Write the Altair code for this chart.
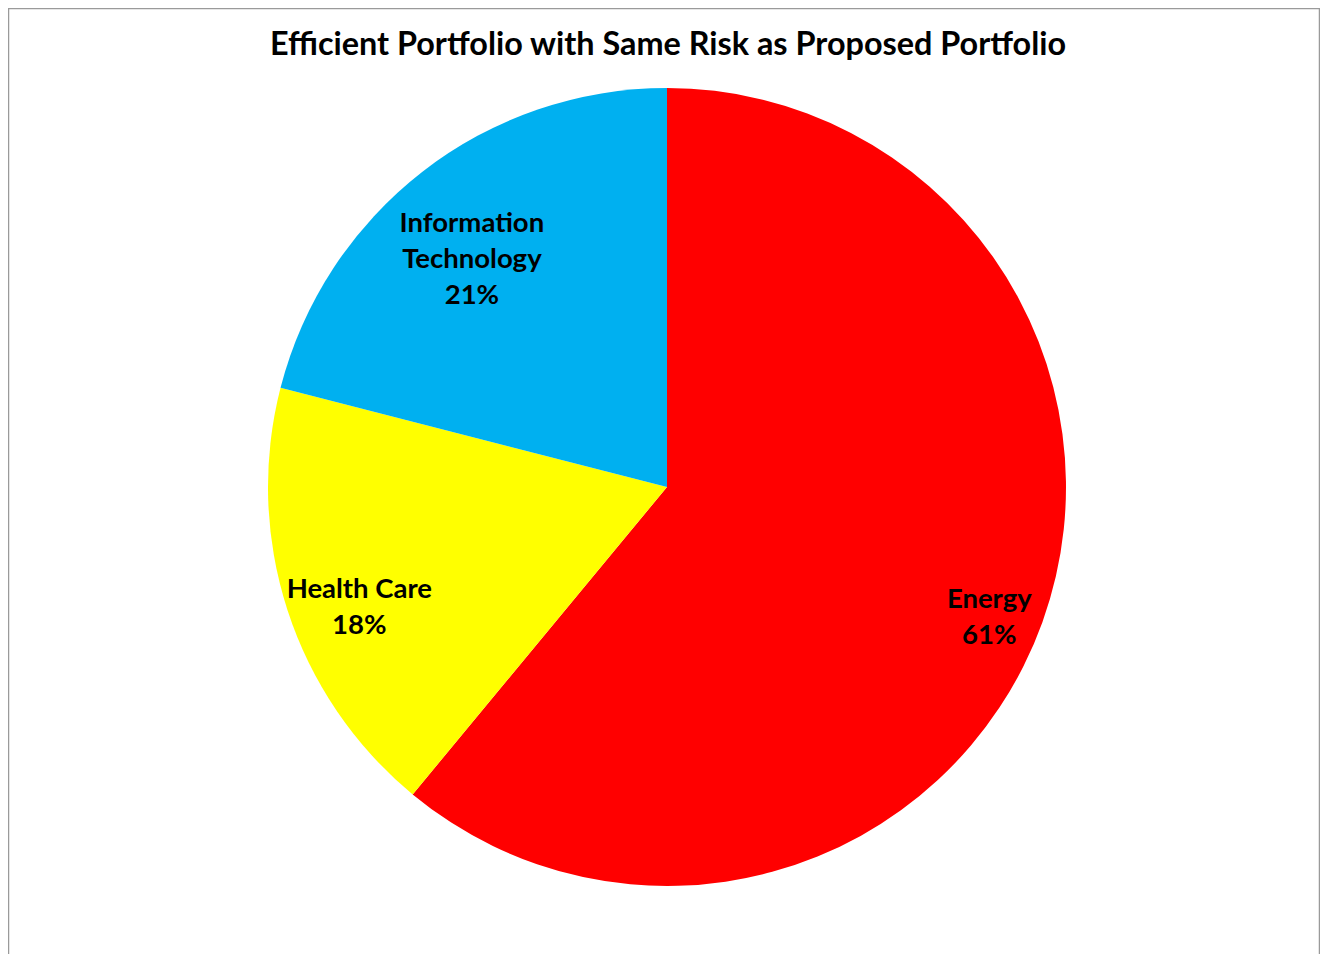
import textwrap
import altair as alt
import pandas as pd

# Data
categories = ["Energy", "Health Care", "Information Technology"]
weights = [61, 18, 21]
colors = ["#FF0000", "#FFFF00", "#00B0F0"]
title_text = "Efficient Portfolio with Same Risk as Proposed Portfolio"

df = pd.DataFrame({
    "sector": categories,
    "weight": weights,
    "order": list(range(len(categories))),
})
df["label"] = [textwrap.fill(c, 12) + "\n" + f"{w}%" for c, w in zip(categories, weights)]

W, H = 1312, 946
CX, CY = 659, 479  # pie centre inside the view (layout only)

border = alt.Chart(df).mark_rect(
    filled=False, stroke="#9A9A9A", strokeWidth=2.5
).encode(
    x=alt.value(0), x2=alt.value(W), y=alt.value(0), y2=alt.value(H + 20)
).transform_filter("datum.order == 0")

base = alt.Chart(df).encode(
    theta=alt.Theta("weight:Q", stack=True),
    order=alt.Order("order:Q"),
    x=alt.value(CX),
    y=alt.value(CY),
)

pie = base.mark_arc(radius=399).encode(
    color=alt.Color("sector:N", scale=alt.Scale(domain=categories, range=colors), legend=None)
)

labels = base.mark_text(
    radius=333, dx=9, font="Lato", fontWeight="bold", fontSize=27.5,
    lineBreak="\n", lineHeight=36, color="#000000",
).encode(text="label:N")

chart = alt.layer(border, pie, labels).properties(
    width=W, height=H, padding=0, autosize="none",
    title=alt.TitleParams(
        title_text, font="Lato", fontWeight="bold", fontSize=32.4, color="#000000",
        anchor="middle", orient="top", offset=-81, baseline="alphabetic", dx=4,
    ),
).configure_view(stroke=None)

chart.save("out.html", embed_options={"renderer": "svg", "actions": False})
